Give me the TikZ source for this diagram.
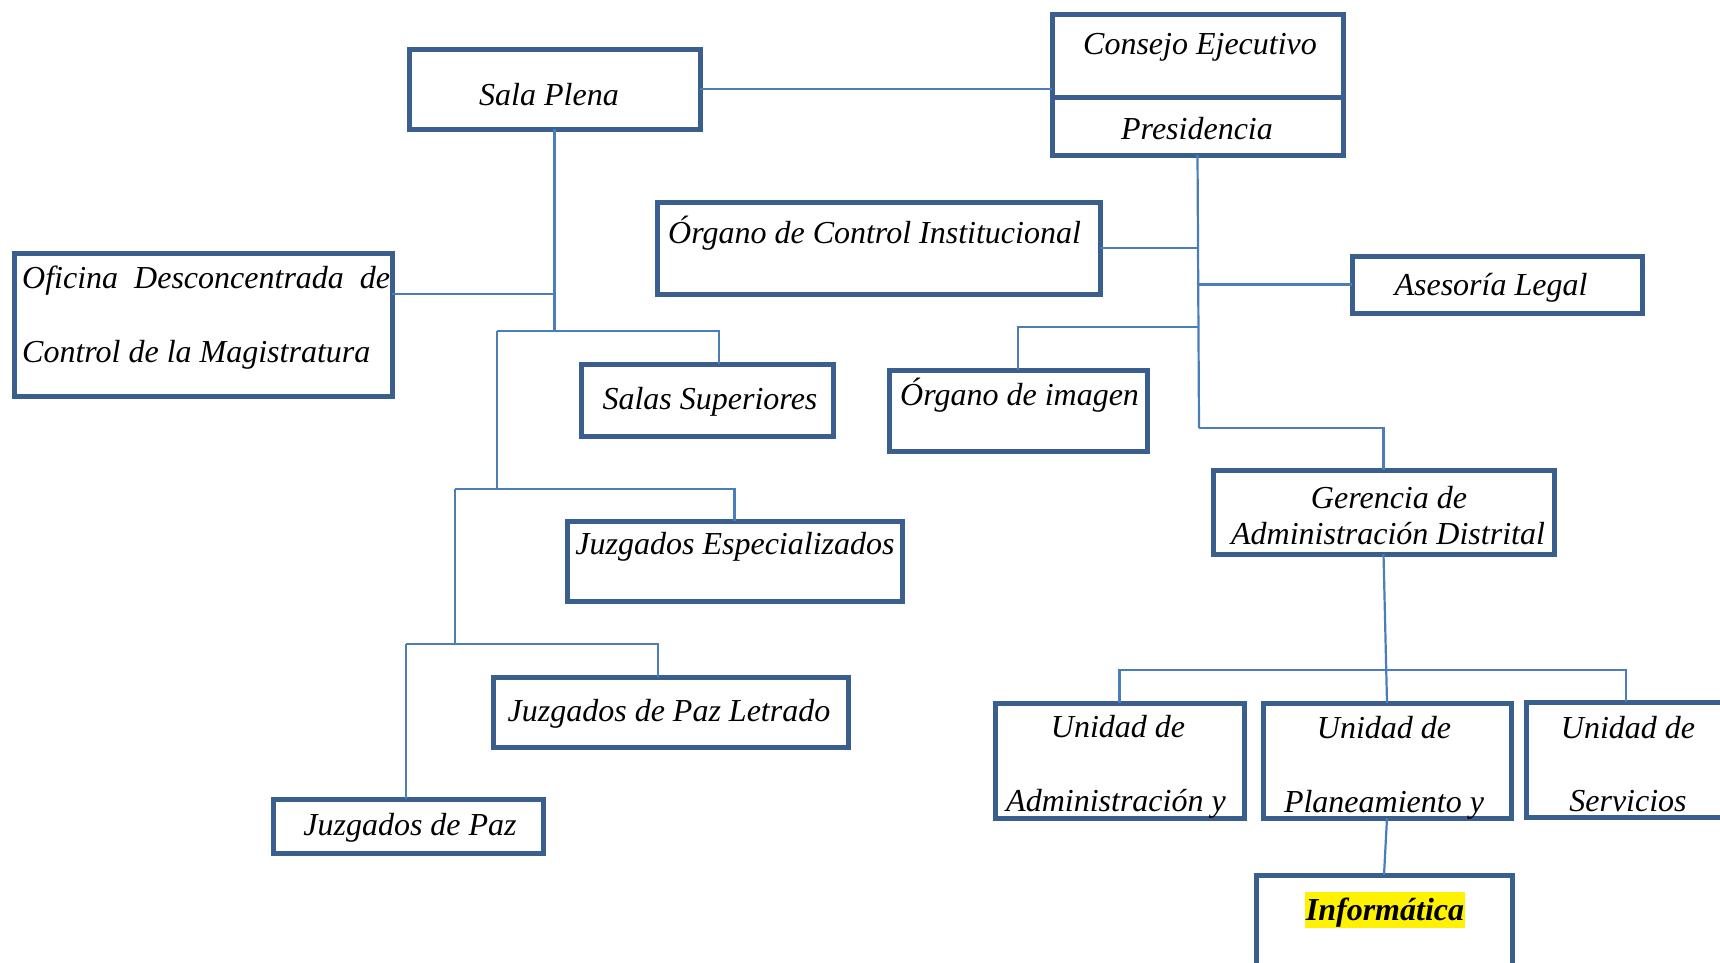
\documentclass[tikz,border=0pt]{standalone}
\usepackage{fontspec}
\setmainfont{Liberation Serif}
\definecolor{boxblue}{HTML}{3A5F8E}
\definecolor{linkblue}{HTML}{4A7EBB}

\begin{document}
\begin{tikzpicture}[x=1pt, y=-1pt,
    box/.style={draw=boxblue, line width=5pt, inner sep=0pt, outer sep=0pt},
    link/.style={draw=linkblue, line width=2.2pt},
    lbl/.style={anchor=base, inner sep=0pt, font=\fontsize{32}{36}\selectfont\itshape}]
    \useasboundingbox (0,0) rectangle (1720,962);
    \clip (0,0) rectangle (1720,962);

    % Boxes
    \node[box, minimum width=291pt, minimum height=80pt] (sala) at (554.5,89) {};
    \node[box, minimum width=291pt, minimum height=83pt] (consejo) at (1197.5,55.5) {};
    \node[box, minimum width=291pt, minimum height=58pt] (presid) at (1197.5,126) {};
    \node[box, minimum width=443pt, minimum height=92pt] (oci) at (878.5,248) {};
    \node[box, minimum width=290pt, minimum height=57pt] (asesoria) at (1497,284.5) {};
    \node[box, minimum width=378pt, minimum height=143pt] (oficina) at (203,324.5) {};
    \node[box, minimum width=252pt, minimum height=72pt] (salas) at (707,400) {};
    \node[box, minimum width=258pt, minimum height=81pt] (imagen) at (1018,410.5) {};
    \node[box, minimum width=341pt, minimum height=84pt] (gerencia) at (1383.5,512) {};
    \node[box, minimum width=335pt, minimum height=80pt] (juzesp) at (734.5,561) {};
    \node[box, minimum width=355pt, minimum height=70pt] (juzpl) at (670.5,712) {};
    \node[box, minimum width=270pt, minimum height=54pt] (juzpaz) at (408,826) {};
    \node[box, minimum width=249pt, minimum height=115pt] (uadm) at (1119.5,760.5) {};
    \node[box, minimum width=248pt, minimum height=115pt] (uplan) at (1387,760.5) {};
    \node[box, minimum width=200pt, minimum height=115pt] (userv) at (1626,759.5) {};
    \node[box, minimum width=256pt, minimum height=115pt] (informatica) at (1384,932.5) {};

    % Texts
    \node[lbl] (salaT) at (549,105) {Sala Plena};
    \node[lbl] (consejoT) at (1200,54) {Consejo Ejecutivo};
    \node[lbl] (presidT) at (1197,139) {Presidencia};
    \node[lbl, anchor=base west] (ociT) at (668,243) {Órgano de Control Institucional};
    \node[lbl] (asesoriaT) at (1491,295) {Asesoría Legal};
    \node[lbl, anchor=base west] (oficinaT1) at (22,288) {\makebox[368pt][s]{Oficina Desconcentrada de}};
    \node[lbl, anchor=base west] (oficinaT2) at (22,362) {Control de la Magistratura};
    \node[lbl] (salasT) at (710,409) {Salas Superiores};
    \node[lbl, anchor=base west] (imagenT) at (900,405) {Órgano de imagen};
    \node[lbl] (gerenciaT1) at (1389,508) {Gerencia de};
    \node[lbl] (gerenciaT2) at (1388,544) {Administración Distrital};
    \node[lbl] (juzespT) at (735,554) {Juzgados Especializados};
    \node[lbl] (juzplT) at (669,721) {Juzgados de Paz Letrado};
    \node[lbl] (juzpazT) at (410,835) {Juzgados de Paz};
    \node[lbl] (uadmT1) at (1118,737) {Unidad de};
    \node[lbl] (uadmT2) at (1116,811) {Administración y};
    \node[lbl] (uplanT1) at (1384,738) {Unidad de};
    \node[lbl] (uplanT2) at (1384,812) {Planeamiento y};
    \node[lbl] (uservT1) at (1628,738) {Unidad de};
    \node[lbl] (uservT2) at (1628,811) {Servicios};
    \node[lbl, fill=yellow, inner sep=1pt, text height=27pt, text depth=7pt,
          font=\fontsize{32}{36}\selectfont\bfseries\itshape] (informaticaT) at (1385,920) {Informática};

    % Connectors, right side
    \draw[link] (sala.east) -- (sala.east -| consejo.west);
    \coordinate (pBot) at (1199,428);
    \draw[link] (presid.south) -- (pBot);
    \draw[link] (oci.east) -- (oci.east -| pBot);
    \draw[link] (asesoria.west) -- (asesoria.west -| pBot);
    \draw[link] (pBot |- 0,327) -| (imagen.north);
    \draw[link] (pBot) -| (gerencia.north);
    \draw[link] (gerencia.south) -- (uplan.north);
    \draw[link] (uadm.north) |- (userv.north |- 0,670) -- (userv.north);
    \draw[link] (uplan.south) -- (informatica.north);

    % Connectors, left side
    \coordinate (j1) at (497,331);
    \coordinate (j2) at (455,489);
    \coordinate (j3) at (406,644);
    \draw[link] (sala.south) -- (sala.south |- j1);
    \draw[link] ([yshift=30.5pt]oficina.east) -- ([yshift=30.5pt]oficina.east -| sala.south);
    \draw[link] (j1) -| ([xshift=12pt]salas.north);
    \draw[link] (j1) -- (j1 |- j2);
    \draw[link] (j2) -| (juzesp.north);
    \draw[link] (j2) -- (j2 |- j3);
    \draw[link] (j3) -| ([xshift=-12.5pt]juzpl.north);
    \draw[link] (j3) -- (j3 |- juzpaz.north);
\end{tikzpicture}
\end{document}
